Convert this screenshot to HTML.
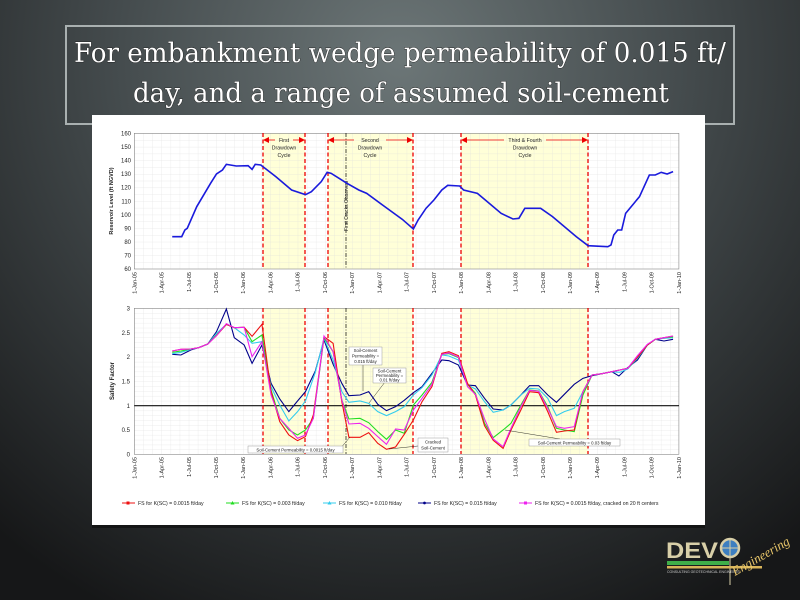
<!DOCTYPE html>
<html><head><meta charset="utf-8"><style>
html,body{margin:0;padding:0;width:800px;height:600px;overflow:hidden;background:#222}
svg{display:block}
</style></head><body>
<svg width="800" height="600" viewBox="0 0 800 600" xmlns="http://www.w3.org/2000/svg" font-family="Liberation Sans, sans-serif">
<defs>
<radialGradient id="bg" cx="400" cy="60" r="620" gradientUnits="userSpaceOnUse">
<stop offset="0" stop-color="#6c7677"/><stop offset="0.45" stop-color="#454c4e"/><stop offset="1" stop-color="#161718"/>
</radialGradient>
<pattern id="gt" x="134.3" y="133.3" width="9.08" height="6.78" patternUnits="userSpaceOnUse">
<path d="M0 0V6.78M0 0H9.08" stroke="#dcdcdc" stroke-width="0.5" fill="none"/></pattern>
<pattern id="gb" x="134.3" y="308.3" width="9.08" height="4.87" patternUnits="userSpaceOnUse">
<path d="M0 0V4.87M0 0H9.08" stroke="#dcdcdc" stroke-width="0.5" fill="none"/></pattern>
<marker id="ar" markerWidth="6" markerHeight="6" refX="5" refY="3" orient="auto" markerUnits="userSpaceOnUse"><path d="M0 0L6 3L0 6z" fill="#e00"/></marker>
<marker id="al" markerWidth="6" markerHeight="6" refX="1" refY="3" orient="auto" markerUnits="userSpaceOnUse"><path d="M6 0L0 3L6 6z" fill="#e00"/></marker>
</defs>
<rect width="800" height="600" fill="url(#bg)"/>
<rect x="66" y="26" width="668" height="98" fill="none" stroke="#a9b0b0" stroke-width="2"/>
<g font-family="DejaVu Serif, Liberation Serif, serif" font-size="27" fill="#fff" text-anchor="middle" stroke="#1a1a1a" stroke-width="0.8" paint-order="stroke">
<text x="400" y="62" textLength="652" lengthAdjust="spacingAndGlyphs">For embankment wedge permeability of 0.015 ft/</text>
<text x="401" y="102" textLength="536" lengthAdjust="spacingAndGlyphs">day, and a range of assumed soil-cement</text>
</g>
<rect x="92" y="115" width="613" height="410" fill="#fff"/>
<rect x="92" y="525" width="613" height="3" fill="#0c0c0c" opacity="0.6"/>

<!-- TOP CHART -->
<rect x="263" y="133.3" width="42" height="135.7" fill="#ffffd8"/>
<rect x="328" y="133.3" width="85" height="135.7" fill="#ffffd8"/>
<rect x="461" y="133.3" width="127" height="135.7" fill="#ffffd8"/>
<rect x="134.3" y="133.3" width="544.6" height="135.7" fill="url(#gt)"/>
<rect x="134.3" y="133.3" width="544.6" height="135.7" fill="none" stroke="#888" stroke-width="0.6"/>
<g font-size="6" fill="#222" text-anchor="end">
<text x="131" y="135.5">160</text><text x="131" y="149">150</text><text x="131" y="162.6">140</text><text x="131" y="176.2">130</text><text x="131" y="189.7">120</text><text x="131" y="203.3">110</text><text x="131" y="216.9">100</text><text x="131" y="230.4">90</text><text x="131" y="244">80</text><text x="131" y="257.6">70</text><text x="131" y="271.2">60</text>
</g>
<text transform="translate(113,201) rotate(-90)" font-size="5.5" font-weight="bold" text-anchor="middle" fill="#222">Reservoir Level (ft NGVD)</text>
<g font-size="5.5" fill="#222" text-anchor="end">
<text transform="translate(136.3,272) rotate(-90)">1-Jan-05</text><text transform="translate(163.5,272) rotate(-90)">1-Apr-05</text><text transform="translate(190.8,272) rotate(-90)">1-Jul-05</text><text transform="translate(218,272) rotate(-90)">1-Oct-05</text><text transform="translate(245.2,272) rotate(-90)">1-Jan-06</text><text transform="translate(272.5,272) rotate(-90)">1-Apr-06</text><text transform="translate(299.7,272) rotate(-90)">1-Jul-06</text><text transform="translate(326.9,272) rotate(-90)">1-Oct-06</text><text transform="translate(354.1,272) rotate(-90)">1-Jan-07</text><text transform="translate(381.4,272) rotate(-90)">1-Apr-07</text><text transform="translate(408.6,272) rotate(-90)">1-Jul-07</text><text transform="translate(435.8,272) rotate(-90)">1-Oct-07</text><text transform="translate(463.1,272) rotate(-90)">1-Jan-08</text><text transform="translate(490.3,272) rotate(-90)">1-Apr-08</text><text transform="translate(517.5,272) rotate(-90)">1-Jul-08</text><text transform="translate(544.8,272) rotate(-90)">1-Oct-08</text><text transform="translate(572,272) rotate(-90)">1-Jan-09</text><text transform="translate(599.2,272) rotate(-90)">1-Apr-09</text><text transform="translate(626.4,272) rotate(-90)">1-Jul-09</text><text transform="translate(653.7,272) rotate(-90)">1-Oct-09</text><text transform="translate(680.9,272) rotate(-90)">1-Jan-10</text>
</g>
<g stroke="#e00" stroke-width="1.3" stroke-dasharray="4,2.5">
<line x1="263" y1="133" x2="263" y2="269"/><line x1="305" y1="133" x2="305" y2="269"/><line x1="328" y1="133" x2="328" y2="269"/><line x1="413" y1="133" x2="413" y2="269"/><line x1="461" y1="133" x2="461" y2="269"/><line x1="588" y1="133" x2="588" y2="269"/>
</g>
<line x1="346" y1="133" x2="346" y2="269" stroke="#000" stroke-width="0.7" stroke-dasharray="4,1.5,1,1.5"/>
<text transform="translate(348,231) rotate(-90)" font-size="5" fill="#222">First Cracks Observed</text>
<g stroke="#e00" stroke-width="0.8">
<line x1="264" y1="140" x2="275" y2="140" marker-start="url(#al)"/><line x1="293" y1="140" x2="304" y2="140" marker-end="url(#ar)"/>
<line x1="329" y1="140" x2="354" y2="140" marker-start="url(#al)"/><line x1="386" y1="140" x2="412" y2="140" marker-end="url(#ar)"/>
<line x1="462" y1="140" x2="504" y2="140" marker-start="url(#al)"/><line x1="546" y1="140" x2="587" y2="140" marker-end="url(#ar)"/>
</g>
<g font-size="5.2" fill="#222" text-anchor="middle">
<text x="284" y="142">First</text><text x="284" y="149.5">Drawdown</text><text x="284" y="157">Cycle</text>
<text x="370" y="142">Second</text><text x="370" y="149.5">Drawdown</text><text x="370" y="157">Cycle</text>
<text x="525" y="142">Third &amp; Fourth</text><text x="525" y="149.5">Drawdown</text><text x="525" y="157">Cycle</text>
</g>
<g transform="translate(90,120) scale(0.3953,0.3333)">
<polyline vector-effect="non-scaling-stroke" fill="none" stroke="#1a1adc" stroke-width="1.6" points="208,350 232,350 240,330 246,325 270,260 305,190 320,162 335,150 345,133 355,135 370,138 400,137 410,148 418,133 432,135 470,170 510,210 545,224 560,215 585,185 600,157 610,160 630,175 650,190 680,210 700,220 740,255 790,298 818,327 830,300 850,265 870,240 890,210 905,196 935,198 945,210 980,220 1000,240 1040,280 1070,297 1085,295 1100,265 1140,265 1170,290 1230,350 1260,377 1310,380 1318,375 1325,345 1335,330 1345,330 1355,280 1390,230 1415,165 1430,165 1445,157 1460,162 1475,155"/>
</g>

<!-- BOTTOM CHART -->
<rect x="263" y="308.3" width="42" height="146" fill="#ffffd8"/>
<rect x="328" y="308.3" width="85" height="146" fill="#ffffd8"/>
<rect x="461" y="308.3" width="127" height="146" fill="#ffffd8"/>
<rect x="134.3" y="308.3" width="544.6" height="146" fill="url(#gb)"/>
<rect x="134.3" y="308.3" width="544.6" height="146" fill="none" stroke="#888" stroke-width="0.6"/>
<line x1="134.3" y1="405.7" x2="679" y2="405.7" stroke="#111" stroke-width="1.1"/>
<g font-size="6" fill="#222" text-anchor="end">
<text x="130" y="310.5">3</text><text x="130" y="334.8">2.5</text><text x="130" y="359.2">2</text><text x="130" y="383.5">1.5</text><text x="130" y="407.8">1</text><text x="130" y="432.2">0.5</text><text x="130" y="456.5">0</text>
</g>
<text transform="translate(114,381) rotate(-90)" font-size="6" font-weight="bold" text-anchor="middle" fill="#222">Safety Factor</text>
<g font-size="5.5" fill="#222" text-anchor="end">
<text transform="translate(136.3,457) rotate(-90)">1-Jan-05</text><text transform="translate(163.5,457) rotate(-90)">1-Apr-05</text><text transform="translate(190.8,457) rotate(-90)">1-Jul-05</text><text transform="translate(218,457) rotate(-90)">1-Oct-05</text><text transform="translate(245.2,457) rotate(-90)">1-Jan-06</text><text transform="translate(272.5,457) rotate(-90)">1-Apr-06</text><text transform="translate(299.7,457) rotate(-90)">1-Jul-06</text><text transform="translate(326.9,457) rotate(-90)">1-Oct-06</text><text transform="translate(354.1,457) rotate(-90)">1-Jan-07</text><text transform="translate(381.4,457) rotate(-90)">1-Apr-07</text><text transform="translate(408.6,457) rotate(-90)">1-Jul-07</text><text transform="translate(435.8,457) rotate(-90)">1-Oct-07</text><text transform="translate(463.1,457) rotate(-90)">1-Jan-08</text><text transform="translate(490.3,457) rotate(-90)">1-Apr-08</text><text transform="translate(517.5,457) rotate(-90)">1-Jul-08</text><text transform="translate(544.8,457) rotate(-90)">1-Oct-08</text><text transform="translate(572,457) rotate(-90)">1-Jan-09</text><text transform="translate(599.2,457) rotate(-90)">1-Apr-09</text><text transform="translate(626.4,457) rotate(-90)">1-Jul-09</text><text transform="translate(653.7,457) rotate(-90)">1-Oct-09</text><text transform="translate(680.9,457) rotate(-90)">1-Jan-10</text>
</g>
<g stroke="#e00" stroke-width="1.3" stroke-dasharray="4,2.5">
<line x1="263" y1="308" x2="263" y2="454"/><line x1="305" y1="308" x2="305" y2="454"/><line x1="328" y1="308" x2="328" y2="454"/><line x1="413" y1="308" x2="413" y2="454"/><line x1="461" y1="308" x2="461" y2="454"/><line x1="588" y1="308" x2="588" y2="454"/>
</g>
<line x1="346" y1="308" x2="346" y2="454" stroke="#000" stroke-width="0.7" stroke-dasharray="4,1.5,1,1.5"/>
<g transform="translate(90,295) scale(0.3953,0.3333)" fill="none" stroke-width="1.1">
<polyline vector-effect="non-scaling-stroke" stroke="#00008a" points="208,178 230,180 255,165 275,158 298,147 320,110 345,42 365,128 390,150 410,205 435,150 458,265 480,312 503,350 525,318 545,290 570,228 592,135 615,208 637,265 655,302 683,300 705,290 728,328 750,347 773,335 795,316 818,293 840,275 865,235 890,195 908,197 932,210 955,270 975,272 998,310 1020,342 1045,345 1065,330 1090,300 1112,272 1135,272 1158,300 1180,322 1200,298 1225,268 1247,250 1270,242 1295,236 1320,230 1338,243 1360,218 1385,195 1410,150 1430,133 1452,138 1475,133"/>
<polyline vector-effect="non-scaling-stroke" stroke="#33ccee" points="208,176 230,172 255,163 275,158 298,147 320,115 345,88 365,98 390,120 410,145 435,140 458,275 480,330 503,378 525,350 545,318 570,232 592,130 615,195 637,290 655,322 683,318 705,325 728,350 750,362 773,350 795,335 818,300 840,278 865,240 890,180 908,183 932,195 955,270 975,282 998,320 1020,352 1045,345 1065,330 1090,300 1112,280 1135,282 1158,310 1180,362 1200,350 1225,340 1247,290 1270,240 1295,236 1320,230 1340,232 1360,222 1385,190 1410,150 1430,133 1452,130 1475,128"/>
<polyline vector-effect="non-scaling-stroke" stroke="#22dd22" points="208,172 230,168 255,162 275,158 298,147 320,120 345,88 365,98 390,97 410,140 435,120 458,285 480,370 503,405 525,420 545,405 565,370 592,128 615,170 637,315 655,372 683,370 705,383 728,410 750,433 773,405 795,415 818,330 840,300 865,262 890,178 908,176 932,188 955,268 975,295 998,385 1020,428 1045,405 1065,385 1090,330 1112,285 1135,288 1158,335 1180,400 1200,405 1225,410 1247,300 1270,240 1295,236 1320,230 1340,225 1360,220 1385,187 1410,150 1430,133 1452,128 1475,126"/>
<polyline vector-effect="non-scaling-stroke" stroke="#ee1111" points="208,168 230,163 255,162 275,158 298,147 320,122 345,88 365,98 390,97 410,124 435,88 458,290 480,380 503,420 525,437 545,425 565,360 592,125 615,145 637,320 655,427 683,427 705,413 728,445 750,463 773,456 795,418 818,375 840,320 865,275 890,175 908,170 932,182 955,265 975,300 998,392 1020,436 1045,460 1065,405 1090,345 1112,290 1135,293 1158,350 1180,412 1200,408 1225,405 1247,290 1270,240 1295,236 1320,230 1340,225 1360,220 1385,187 1410,150 1430,133 1452,128 1475,123"/>
<polyline vector-effect="non-scaling-stroke" stroke="#ee22ee" points="208,168 230,163 255,162 275,158 298,147 320,122 345,86 365,98 390,97 410,185 435,140 458,300 480,370 503,400 525,430 545,420 565,370 592,123 615,170 637,315 655,387 683,385 705,400 728,425 750,448 773,402 795,405 818,345 840,310 865,268 890,178 908,174 932,186 955,275 975,298 998,372 1020,432 1045,455 1065,400 1090,335 1112,286 1135,289 1158,340 1180,395 1200,400 1225,395 1247,290 1270,240 1295,236 1320,230 1340,225 1360,220 1385,182 1410,148 1430,133 1452,128 1475,123"/>
</g>
<!-- annotations -->
<g stroke="#000" stroke-width="0.4" fill="none">
<line x1="363" y1="365" x2="363" y2="391"/><line x1="385" y1="382" x2="369" y2="403"/>
<line x1="340" y1="449" x2="350" y2="437"/><line x1="418" y1="446" x2="389" y2="449"/><line x1="560" y1="439" x2="505" y2="430"/>
</g>
<g fill="#fff" stroke="#888" stroke-width="0.4">
<rect x="349" y="347" width="33" height="18"/><rect x="373" y="368" width="33" height="15"/><rect x="248" y="446" width="95" height="7"/><rect x="418" y="438" width="30" height="14"/><rect x="529" y="439" width="91" height="7"/>
</g>
<g font-size="4.3" fill="#222" text-anchor="middle">
<text x="365.5" y="352">Soil-Cement</text><text x="365.5" y="357.5">Permeability =</text><text x="365.5" y="363">0.015 ft/day</text>
<text x="389.5" y="372.5">Soil-Cement</text><text x="389.5" y="377">Permeability =</text><text x="389.5" y="381.5">0.01 ft/day</text>
<text x="295.5" y="451.5">Soil-Cement Permeability = 0.0015 ft/day</text>
<text x="433" y="443.5">Cracked</text><text x="433" y="449.5">Soil-Cement</text>
<text x="574.5" y="444.5">Soil-Cement Permeability = 0.03 ft/day</text>
</g>
<!-- legend -->
<g stroke-width="1"><g font-size="5.2" fill="#222">
<line x1="122" y1="503" x2="135" y2="503" stroke="#ee1111"/><rect x="126.5" y="501.5" width="3" height="3" fill="#ee1111"/><text x="138" y="505">FS for K(SC) = 0.0015 ft/day</text>
<line x1="226" y1="503" x2="239" y2="503" stroke="#22dd22"/><path d="M232.5 501L234.5 504.5H230.5Z" fill="#22dd22"/><text x="242" y="505">FS for K(SC) = 0.003 ft/day</text>
<line x1="323" y1="503" x2="336" y2="503" stroke="#33ccee"/><path d="M329.5 501L331.5 504.5H327.5Z" fill="#33ccee"/><text x="339" y="505">FS for K(SC) = 0.010 ft/day</text>
<line x1="418" y1="503" x2="431" y2="503" stroke="#00008a"/><circle cx="424.5" cy="503" r="1.4" fill="#00008a"/><text x="434" y="505">FS for K(SC) = 0.015 ft/day</text>
<line x1="519" y1="503" x2="532" y2="503" stroke="#ee22ee"/><rect x="524" y="501.5" width="3" height="3" fill="#ee22ee"/><text x="535" y="505">FS for K(SC) = 0.0015 ft/day, cracked on 20 ft centers</text>
</g></g>
<!-- logo -->
<g>
<text x="666" y="558" font-size="22" font-weight="bold" fill="#d8cfa8" textLength="52" lengthAdjust="spacingAndGlyphs">DEV</text>
<circle cx="730" cy="548" r="9" fill="#3d7fc0" stroke="#d8cfa8" stroke-width="2.5"/>
<line x1="721" y1="548" x2="739" y2="548" stroke="#d8cfa8" stroke-width="1"/><line x1="730" y1="539" x2="730" y2="585" stroke="#d8cfa8" stroke-width="1"/>
<rect x="667" y="561" width="62" height="4" fill="#3fae49"/>
<rect x="667" y="566" width="95" height="2.5" fill="#d8b45a"/>
<text x="667" y="573" font-size="3.5" fill="#ccc">CONSULTING GEOTECHNICAL ENGINEERS</text>
<text transform="translate(735,576) rotate(-30)" font-family="Liberation Serif, serif" font-style="italic" font-size="13" fill="#e8c66a">Engineering</text>
</g>
</svg>
</body></html>
